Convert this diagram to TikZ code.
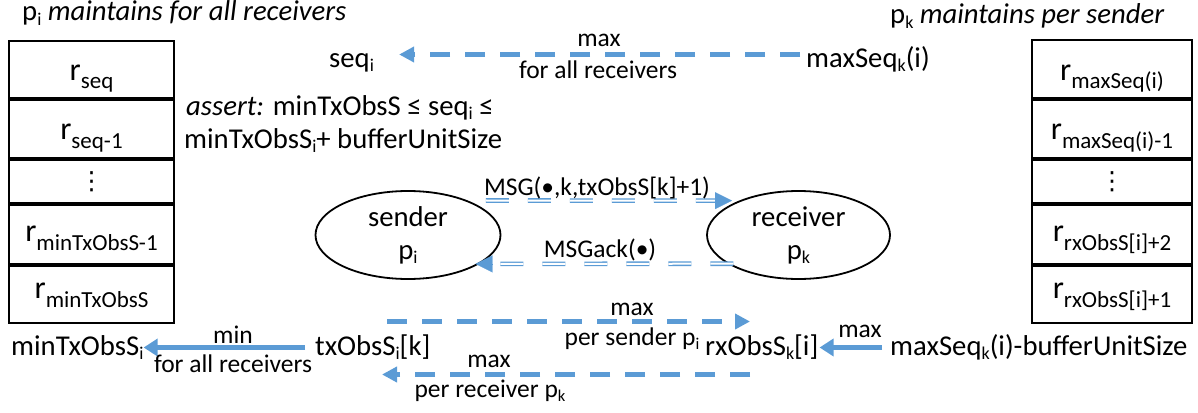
\documentclass[tikz,border=0pt]{standalone}
\usepackage{fontspec}
\setmainfont{Carlito}
\newfontfamily\dejavu{DejaVu Sans}
\usetikzlibrary{arrows.meta,shapes.geometric}
\definecolor{arrowblue}{RGB}{91,155,213}
\newcommand\mainsz{\fontsize{28.7}{33}\selectfont}
\newcommand\lblsz{\fontsize{25.5}{29}\selectfont}
\newcommand\rsz{\fontsize{32}{38}\selectfont}
\newcommand\lo[1]{\raisebox{-4.5pt}{\fontsize{18}{20}\selectfont #1}}
\newcommand\llo[1]{\raisebox{-4pt}{\fontsize{16.5}{19}\selectfont #1}}
\newcommand\rlo[1]{\raisebox{-9pt}{\fontsize{23}{28}\selectfont #1}}
\begin{document}
\begin{tikzpicture}[x=1pt,y=-1pt,
  cell/.style={draw, line width=2pt, inner sep=0pt, anchor=north},
  cellL/.style={cell, minimum width=165pt},
  cellR/.style={cell, minimum width=160pt},
  rlabel/.style={inner sep=0pt, anchor=base, font=\rsz},
  dotsl/.style={inner sep=0pt, font=\dejavu\fontsize{25}{28}\selectfont},
  txt/.style={inner sep=0pt, text height=20pt, text depth=7pt, font=\mainsz},
  lbl/.style={inner sep=0pt, anchor=base, font=\lblsz},
  ell/.style={ellipse, draw, line width=1.8pt, minimum width=185pt, minimum height=88pt, inner sep=0pt, align=center, font=\mainsz},
  dasharrow/.style={draw=arrowblue, line width=4.5pt, dash pattern=on 20pt off 15pt, -{Triangle[length=15pt,width=15pt]}},
  solidarrow/.style={draw=arrowblue, line width=4.5pt, -{Triangle[length=14pt,width=17pt]}},
  msgline/.style={draw=arrowblue, line width=1.3pt, double=white, double distance=2pt, dash pattern=on 23pt off 19pt, shorten >=16pt},
  msgtip/.style={draw=arrowblue, line width=0.1pt, shorten <=0pt, -{Triangle[length=17pt,width=17pt]}}
]
\useasboundingbox (0,0) rectangle (1198,412);

% titles
\node[txt, anchor=base west] (ttlL) at (22,21) {p\lo{i} \textit{maintains for all receivers}};
\node[txt, anchor=base west] (ttlR) at (890,24) {p\lo{k} \textit{maintains per sender}};

% left stack
\node[cellL, minimum height=57pt] (L1) at (91.5,40) {};
\node[cellL, minimum height=58pt] (L2) at (L1.south) {};
\node[cellL, minimum height=43pt] (L3) at (L2.south) {};
\node[cellL, minimum height=59pt] (L4) at (L3.south) {};
\node[cellL, minimum height=57pt] (L5) at (L4.south) {};
\node[rlabel] (l1t) at (91.5,80) {r\rlo{seq}};
\node[rlabel] (l2t) at (91.5,139) {r\rlo{seq-1}};
\node[dotsl] (l3t) at (L3.center) {⋮};
\node[rlabel] (l4t) at (91.5,241) {r\rlo{minTxObsS-1}};
\node[rlabel] (l5t) at (91.5,298) {r\rlo{minTxObsS}};

% right stack
\node[cellR, minimum height=58pt] (R1) at (1112,39) {};
\node[cellR, minimum height=58pt] (R2) at (R1.south) {};
\node[cellR, minimum height=43pt] (R3) at (R2.south) {};
\node[cellR, minimum height=59pt] (R4) at (R3.south) {};
\node[cellR, minimum height=57pt] (R5) at (R4.south) {};
\node[rlabel] (r1t) at (1112,80) {r\rlo{maxSeq(i)}};
\node[rlabel] (r2t) at (1112,139) {r\rlo{maxSeq(i)-1}};
\node[dotsl] (r3t) at (R3.center) {⋮};
\node[rlabel] (r4t) at (1112,241) {r\rlo{rxObsS[i]+2}};
\node[rlabel] (r5t) at (1112,298) {r\rlo{rxObsS[i]+1}};

% top row
\node[txt, anchor=base west] (seq) at (329,67) {seq\lo{i}};
\node[txt, anchor=base west] (maxseq) at (806,67) {maxSeq\lo{k}(i)};
\draw[dasharrow] ([xshift=-6pt,yshift=6pt]maxseq.west) -- ([xshift=25pt,yshift=6pt]seq.east);
\node[lbl] (maxA) at (599,47) {max};
\node[lbl] (farA) at (598,78) {for all receivers};

% assert
\node[txt, anchor=base west] (assert1) at (186,115) {\textit{assert:} minTxObsS ≤ seq\lo{i} ≤};
\node[txt, anchor=base west] (assert2) at (184,148) {minTxObsS\lo{i}+ bufferUnitSize};

% sender / receiver
\node[ell] (sender) at (408,235) {sender\\p\lo{i}};
\node[ell, minimum width=183pt] (receiver) at (798.5,235) {receiver\\p\lo{k}};
\draw[msgline] ([xshift=18pt]sender.30) -- ([xshift=-7pt]receiver.150);
\draw[msgtip] ([xshift=-24pt]receiver.150) -- ([xshift=-7pt]receiver.150);
\draw[msgline] ([xshift=6pt]receiver.202.6) -- ([xshift=-4pt]sender.-22.6);
\draw[msgtip] ([xshift=13pt]sender.-22.6) -- ([xshift=-4pt]sender.-22.6);
\node[lbl] (msglbl) at (597,195) {MSG(•,k,txObsS[k]+1)};
\node[lbl] (acklbl) at (600,257) {MSGack(•)};

% bottom row
\node[txt, anchor=base west] (mintx) at (11,355) {minTxObsS\lo{i}};
\node[txt, anchor=base west] (txobs) at (315,355) {txObsS\lo{i}[k]};
\node[txt, anchor=base west] (rxobs) at (705,355) {rxObsS\lo{k}[i]};
\node[txt, anchor=base west] (maxbuf) at (890,355) {maxSeq\lo{k}(i)-bufferUnitSize};

\draw[solidarrow] ([xshift=-10pt,yshift=1pt]txobs.west) -- ([yshift=1pt]mintx.east);
\node[lbl] (minlbl) at (233,343) {min};
\node[lbl] (farB) at (233,372) {for all receivers};

\draw[dasharrow] ([xshift=72pt,yshift=27pt]txobs.west) -- ([xshift=45pt,yshift=27pt]rxobs.west);
\node[lbl] (maxB) at (632,315) {max};
\node[lbl] (pslbl) at (632,345) {per sender p\llo{i}};

\draw[dasharrow] ([xshift=45pt,yshift=-26pt]rxobs.west) -- ([xshift=67pt,yshift=-26pt]txobs.west);
\node[lbl] (maxC) at (489,367) {max};
\node[lbl] (prlbl) at (490,397) {per receiver p\llo{k}};

\draw[solidarrow] ([xshift=-8pt,yshift=1pt]maxbuf.west) -- ([xshift=1pt,yshift=1pt]rxobs.east);
\node[lbl] (maxD) at (860,337) {max};
\end{tikzpicture}
\end{document}
